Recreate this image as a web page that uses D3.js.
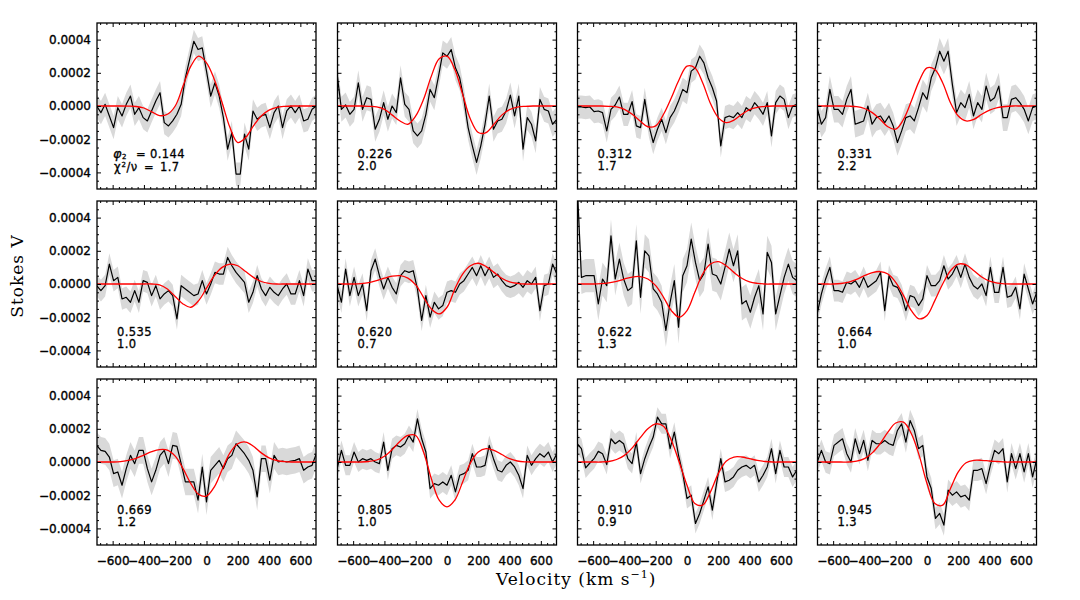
<!DOCTYPE html>
<html><head><meta charset="utf-8">
<script src="https://cdn.jsdelivr.net/npm/d3@7"></script>
<style>
html,body{margin:0;padding:0;background:#fff;}
svg{display:block;}
</style></head><body>
<svg id="chart" width="1080" height="600"></svg>
<script>
// ---- data (Stokes V values in units of 1e-4) ----
const velocity = [-702,-675,-648,-621,-594,-567,-540,-513,-486,-459,-432,-405,-378,-351,-324,-297,-270,-243,-216,-189,-162,-135,-108,-81,-54,-27,0,27,54,81,108,135,162,189,216,243,270,297,324,351,378,405,432,459,486,513,540,567,594,621,648,675,702];
const modelVelocity = [-700,-650,-600,-550,-500,-450,-400,-350,-300,-250,-200,-150,-100,-50,0,50,100,150,200,250,300,350,400,450,500,550,600,650,700];
const phases = ["0.144","0.226","0.312","0.331","0.535","0.620","0.622","0.664","0.669","0.805","0.910","0.945"];
const chiSq  = ["1.7","2.0","1.7","2.2","1.0","0.7","1.3","1.0","1.2","1.0","0.9","1.3"];
const sigmaV = [0.7,0.75,0.7,0.8,0.65,0.65,1.0,0.65,0.8,0.6,0.6,0.65];

const obs1  = [0.0,-0.4,0.1,-0.6,-1.3,-0.1,-0.6,0.1,0.6,-0.5,-0.1,-0.7,-0.9,-0.3,0.3,0.8,-1.0,-1.2,-0.9,-0.5,0.1,1.7,2.8,3.9,3.4,3.5,2.1,0.6,1.4,0.6,-0.7,-2.6,-1.6,-4.1,-4.1,-1.7,-2.6,-0.3,-0.8,-0.6,-0.5,-1.3,-0.4,0.0,-1.3,-0.3,0.0,-0.4,0.0,-0.9,-0.8,-0.2,0.0];
const obs2  = [1.9,-0.2,0.06,-0.5,-0.2,1.4,-0.2,0.5,0.4,-1.4,-0.8,0.2,-0.8,0.0,-0.4,1.7,0.1,-0.2,-1.5,-1.8,-1.5,-0.5,1.0,0.5,1.8,3.2,3.0,3.4,2.3,1.7,0.4,-1.3,-2.4,-3.4,-2.4,-1.1,0.6,-1.4,-0.9,-0.8,-0.3,0.66,-0.6,0.6,-2.6,-0.7,-1.1,-2.1,0.4,-0.2,-0.3,-1.1,-0.8];
const obs3  = [-0.06,-0.06,-0.1,-0.06,-0.34,-0.3,-0.4,-1.5,-0.2,0.06,0.54,-0.5,-0.5,0.26,-1.2,-1.3,0.4,-1.2,-2.2,-1.4,-0.8,-1.6,-0.7,-0.3,0.3,1.0,0.8,2.1,2.3,3.0,2.6,1.7,1.1,0.3,-2.4,-0.7,-0.6,-0.7,-0.4,-0.7,-0.1,-0.3,0.2,-0.1,-0.5,0.2,-1.8,0.2,0.6,0.4,-0.7,0.0,0.1];
const obs4  = [-0.1,-1.1,-0.7,1.0,-0.2,-0.2,-0.5,0.4,1.0,-1.1,-1.0,-0.9,0.0,-1.1,-0.7,-0.6,-1.0,-0.6,-1.2,-2.2,-1.5,-0.7,-0.6,-0.9,-0.1,0.8,0.4,1.7,2.3,3.3,2.7,3.3,1.3,-0.4,0.2,-0.1,0.7,-0.6,0.2,-0.2,1.2,0.3,0.5,1.2,-0.7,-0.7,0.4,0.5,0.2,-0.2,-0.9,-0.1,0.0];
const obs5  = [-0.1,-0.4,-0.1,1.2,0.2,0.4,-0.9,-0.8,-1.1,-0.4,-1.1,0.2,0.1,-0.7,-0.1,-0.9,-0.6,-0.4,-0.7,-2.1,-0.1,-0.3,-0.5,-0.7,-0.6,0.2,-0.6,0.0,0.7,0.6,0.6,1.6,1.1,0.7,0.4,0.1,-1.1,-0.5,0.5,-0.3,-0.7,-0.2,-0.5,-0.7,-0.3,0.0,-0.6,-0.6,0.2,-0.7,0.9,0.2,0.2];
const obs6  = [-0.1,-1.1,0.9,-0.7,0.4,-0.7,0.0,-1.6,0.8,1.5,0.5,-0.3,0.4,-0.2,-0.6,0.5,0.8,0.7,0.8,-0.3,-2.2,-0.7,-2.0,-1.1,-1.5,-1.3,-0.5,-0.4,-0.5,0.0,0.2,0.6,1.0,0.5,1.1,0.5,1.0,0.4,0.6,0.2,-0.1,-0.2,-0.1,0.1,-0.2,0.2,0.0,0.4,-1.6,-0.1,0.0,1.2,0.6];
const obs7  = [6.0,0.4,0.5,0.5,0.5,-1.2,0.3,-0.1,2.9,0.3,1.5,0.3,-0.4,-0.2,2.6,-0.8,2.0,1.7,-0.3,-0.6,-1.1,-2.8,-1.1,0.2,-2.6,0.5,1.1,2.7,1.3,0.2,0.6,2.4,0.6,0.5,0.0,1.0,2.1,1.1,2.0,-1.2,-1.0,-1.7,-0.8,-0.1,-1.8,1.9,1.3,-1.8,-0.7,0.4,1.2,0.4,0.2];
const obs8  = [-1.8,-0.6,0.3,1.0,-0.4,-0.4,-0.5,0.1,0.0,0.2,-0.2,0.4,-0.2,0.0,0.2,0.7,-1.6,0.5,-0.1,-0.2,-0.7,-1.6,-0.7,-0.8,-1.3,-0.9,0.5,-0.1,-0.1,0.2,1.1,0.3,0.6,1.1,0.4,1.2,0.4,-0.1,-0.3,0.0,-0.7,1.0,-0.5,-0.5,1.0,-0.8,-0.7,-0.2,-1.5,0.6,-0.3,-1.2,-0.5];
const obs9  = [1.0,0.7,0.64,0.3,-0.7,-0.6,-1.4,-0.4,0.4,-0.1,0.7,0.7,-0.4,-1.2,-0.5,0.4,0.7,-0.1,1.0,0.94,-0.1,-1.2,-1.2,-1.2,-2.3,-0.3,-2.4,-0.5,-0.2,0.1,-0.4,0.2,0.4,1.1,0.8,0.5,0.1,-0.5,-2.1,0.2,0.2,-1.1,0.4,0.0,0.06,0.0,0.06,0.1,0.2,-0.5,-0.3,-0.2,0.5];
const obs10 = [-0.4,0.7,-0.2,-0.2,0.6,0.0,0.2,0.1,0.2,0.0,-0.1,1.2,-0.5,0.8,1.0,0.9,1.1,1.6,1.2,2.6,1.4,0.6,-1.6,-1.3,-1.4,-1.2,-1.4,-0.8,-1.8,-0.8,-0.7,-0.5,0.5,-0.3,-0.3,-0.2,1.0,0.2,-0.5,-0.6,-0.2,0.0,-0.3,-0.8,-1.6,0.4,-0.2,0.2,0.5,0.3,0.6,0.0,0.5];
const obs11 = [1.1,0.8,-0.36,-0.06,0.2,0.64,0.5,-0.16,1.4,1.1,1.3,1.1,0.2,-0.1,1.2,-0.7,0.2,0.9,1.5,2.7,2.3,2.3,0.8,1.8,0.4,-0.7,-2.2,-2.0,-3.7,-3.1,-2.3,-1.5,-2.9,-1.3,0.2,-1.2,-1.1,-0.9,-0.5,-0.3,-0.2,-0.4,-0.2,-1.2,-0.8,-0.3,0.8,-0.7,0.7,-0.3,-0.3,-0.9,-0.5];
const obs12 = [0.0,0.7,0.0,-0.1,1.0,1.2,1.4,0.5,0.0,1.4,0.5,1.3,0.1,1.3,1.1,1.1,1.3,1.1,1.0,1.9,2.3,1.2,2.5,1.9,0.8,1.0,-0.9,-1.6,-3.4,-3.1,-3.8,-1.7,-2.0,-1.8,-2.1,-2.0,-2.3,-0.5,-0.5,-0.4,-1.3,-0.2,0.7,0.5,0.8,-1.2,0.5,-0.4,0.5,-0.6,0.5,-0.9,0.2];

const mod1  = [0,0,0,0,-0.01,-0.03,-0.12,-0.35,-0.58,-0.5,0.0,1.2,2.4,3.0,2.6,1.6,0.2,-1.3,-2.2,-1.9,-1.2,-0.6,-0.25,-0.08,-0.02,0,0,0,0];
const mod2  = [0,0,0,0,-0.02,-0.05,-0.2,-0.55,-0.9,-1.1,-0.6,0.4,1.8,2.85,3.0,2.2,0.7,-0.8,-1.6,-1.6,-1.1,-0.55,-0.22,-0.07,-0.02,0,0,0,0];
const mod3  = [0,0,0,0,-0.02,-0.05,-0.2,-0.5,-0.9,-1.25,-1.2,-0.5,0.5,1.6,2.4,2.3,1.4,0.15,-0.7,-1.0,-0.85,-0.5,-0.22,-0.08,-0.02,0,0,0,0];
const mod4  = [0,0,0,0,-0.01,-0.04,-0.15,-0.4,-0.8,-1.25,-1.4,-0.8,0.3,1.5,2.3,2.2,1.4,0.2,-0.6,-0.9,-0.8,-0.5,-0.25,-0.1,-0.03,0,0,0,0];
const mod5  = [0,0,0,0,0,0,0,0,-0.05,-0.3,-0.75,-1.2,-1.4,-1.0,-0.25,0.5,1.0,1.2,1.1,0.75,0.4,0.15,0.04,0,0,0,0,0,0];
const mod6  = [0,0,0,0.02,0.08,0.2,0.35,0.47,0.5,0.35,-0.05,-0.8,-1.5,-1.8,-1.4,-0.3,0.6,1.1,1.25,1.05,0.7,0.35,0.13,0.04,0,0,0,0,0];
const mod7  = [0,0,0,0.02,0.07,0.16,0.3,0.42,0.45,0.3,-0.1,-0.8,-1.6,-2.0,-1.6,-0.5,0.6,1.2,1.35,1.1,0.7,0.35,0.13,0.04,0,0,0,0,0];
const mod8  = [0,0,0,0.03,0.12,0.28,0.5,0.68,0.75,0.6,0.1,-0.7,-1.6,-2.1,-1.9,-1.0,0.0,0.8,1.2,1.15,0.8,0.42,0.17,0.05,0.01,0,0,0,0];
const mod9  = [0,0,0,0.02,0.1,0.22,0.42,0.62,0.75,0.72,0.35,-0.4,-1.3,-1.95,-2.05,-1.5,-0.45,0.55,1.1,1.2,0.95,0.55,0.25,0.09,0.02,0,0,0,0];
const mod10 = [0,0,0,0,0.03,0.12,0.35,0.75,1.25,1.6,1.6,0.6,-1.0,-2.3,-2.7,-2.3,-1.2,-0.05,0.6,0.8,0.7,0.45,0.2,0.06,0.01,0,0,0,0];
const mod11 = [0,0,0,0,0.03,0.15,0.4,0.85,1.45,2.0,2.3,2.15,1.3,0.0,-1.4,-2.5,-2.6,-1.8,-0.7,0.05,0.3,0.3,0.2,0.1,0.03,0,0,0,0];
const mod12 = [0,0,0,0,0,0.05,0.2,0.55,1.1,1.8,2.35,2.4,1.7,0.4,-1.3,-2.5,-2.6,-1.6,-0.6,-0.05,0.1,0.1,0.06,0.03,0,0,0,0,0];

const stokesV = [obs1,obs2,obs3,obs4,obs5,obs6,obs7,obs8,obs9,obs10,obs11,obs12];
const modelV  = [mod1,mod2,mod3,mod4,mod5,mod6,mod7,mod8,mod9,mod10,mod11,mod12];

const yTicks = [-4,-2,0,2,4];
const yTickLabels = ["\u22120.0004","\u22120.0002","0.0000","0.0002","0.0004"];
const xTicks = [-600,-400,-200,0,200,400,600];
const xTickLabels = ["\u2212600","\u2212400","\u2212200","0","200","400","600"];

// ---- layout ----
const svg = d3.select("#chart");
const W = 219, H = 166;
const colX = [97, 337.5, 577.5, 817.5];
const rowY = [23, 201, 379];
const tickFont = "'DejaVu Sans', 'Liberation Sans', sans-serif";
const yMinor = d3.range(-4.5, 5, 0.5).filter(v => Math.abs(v % 2) > 1e-9);
const xMinor = d3.range(-680, 700, 40).filter(v => v % 200 !== 0);
const defs = svg.append("defs");

function styleAxis(sel) {
  sel.select(".domain").remove();
  sel.selectAll(".tick line").attr("stroke", "#000").attr("stroke-width", 1);
  sel.selectAll("text").attr("font-family", tickFont).attr("font-size", 12)
    .attr("fill", "#000").attr("stroke", "#000").attr("stroke-width", 0.35);
}

phases.forEach((ph, k) => {
  const col = k % 4, row = Math.floor(k / 4);
  const x0 = colX[col], y0 = rowY[row];
  const x = d3.scaleLinear().domain([-700, 700]).range([x0, x0 + W]);
  const y = d3.scaleLinear().domain([-5, 5]).range([y0 + H, y0]);

  defs.append("clipPath").attr("id", "clip" + k)
    .append("rect").attr("x", x0).attr("y", y0).attr("width", W).attr("height", H);

  const g = svg.append("g");
  const plot = g.append("g").attr("clip-path", `url(#clip${k})`);
  const obs = stokesV[k].map((s, i) => ({ v: velocity[i], s }));
  const sig = sigmaV[k];

  plot.append("path").datum(obs)
    .attr("d", d3.area().x(d => x(d.v)).y0(d => y(d.s - sig)).y1(d => y(d.s + sig)))
    .attr("fill", "#d9d9d9");
  plot.append("path").datum(obs)
    .attr("d", d3.line().x(d => x(d.v)).y(d => y(d.s)))
    .attr("fill", "none").attr("stroke", "#000").attr("stroke-width", 1.2)
    .attr("stroke-linejoin", "round");
  const mod = modelV[k].map((s, i) => ({ v: modelVelocity[i], s }));
  plot.append("path").datum(mod)
    .attr("d", d3.line().curve(d3.curveCatmullRom).x(d => x(d.v)).y(d => y(d.s)))
    .attr("fill", "none").attr("stroke", "#ff0000").attr("stroke-width", 1.3);

  // axes (inward ticks on all sides)
  g.append("g").attr("transform", `translate(${x0},0)`)
    .call(d3.axisLeft(y).tickValues(yTicks).tickSize(-4).tickPadding(6)
      .tickFormat((d, i) => col === 0 ? yTickLabels[i] : "")).call(styleAxis);
  g.append("g").attr("transform", `translate(${x0},0)`)
    .call(d3.axisLeft(y).tickValues(yMinor).tickSize(-2).tickFormat("")).call(styleAxis);
  g.append("g").attr("transform", `translate(${x0 + W},0)`)
    .call(d3.axisRight(y).tickValues(yTicks).tickSize(-4).tickFormat("")).call(styleAxis);
  g.append("g").attr("transform", `translate(${x0 + W},0)`)
    .call(d3.axisRight(y).tickValues(yMinor).tickSize(-2).tickFormat("")).call(styleAxis);
  g.append("g").attr("transform", `translate(0,${y0 + H})`)
    .call(d3.axisBottom(x).tickValues(xTicks).tickSize(-4).tickPadding(11)
      .tickFormat((d, i) => row === 2 ? xTickLabels[i] : "")).call(styleAxis);
  g.append("g").attr("transform", `translate(0,${y0 + H})`)
    .call(d3.axisBottom(x).tickValues(xMinor).tickSize(-2).tickFormat("")).call(styleAxis);
  g.append("g").attr("transform", `translate(0,${y0})`)
    .call(d3.axisTop(x).tickValues(xTicks).tickSize(-4).tickFormat("")).call(styleAxis);
  g.append("g").attr("transform", `translate(0,${y0})`)
    .call(d3.axisTop(x).tickValues(xMinor).tickSize(-2).tickFormat("")).call(styleAxis);

  g.append("rect").attr("x", x0).attr("y", y0).attr("width", W).attr("height", H)
    .attr("fill", "none").attr("stroke", "#000").attr("stroke-width", 1.3);

  // annotations
  const ann = g.append("g").attr("font-family", tickFont).attr("font-size", 11.5)
    .attr("letter-spacing", 0.4).attr("fill", "#000")
    .attr("stroke", "#000").attr("stroke-width", 0.3);
  if (k === 0) {
    const t1 = ann.append("text").attr("y", y0 + 134.5);
    t1.append("tspan").attr("x", x0 + 16).attr("font-size", 13).attr("font-style", "italic").text("\u03c6");
    t1.append("tspan").attr("dy", 1.5).attr("font-size", 7).text("2");
    t1.append("tspan").attr("x", x0 + 39).attr("dy", -1.5).text("=");
    t1.append("tspan").attr("x", x0 + 53).text(ph);
    const t2 = ann.append("text").attr("y", y0 + 148);
    t2.append("tspan").attr("x", x0 + 17).text("\u03c7");
    t2.append("tspan").attr("dx", 0.5).attr("dy", -4).attr("font-size", 7).text("2");
    t2.append("tspan").attr("dy", 4).text("/\u03bd");
    t2.append("tspan").attr("x", x0 + 47).text("=");
    t2.append("tspan").attr("x", x0 + 63).text(chiSq[k]);
  } else {
    ann.append("text").attr("x", x0 + 20).attr("y", y0 + 135).text(ph);
    ann.append("text").attr("x", x0 + 20).attr("y", y0 + 147).text(chiSq[k]);
  }
});

// axis titles
const xt = svg.append("text").attr("x", 496).attr("y", 585)
  .attr("font-family", "'DejaVu Serif', serif").attr("font-size", 17)
  .attr("letter-spacing", 1).attr("fill", "#000");
xt.append("tspan").text("Velocity (km s");
xt.append("tspan").attr("dy", -7).attr("font-size", 11).text("\u22121");
xt.append("tspan").attr("dy", 7).text(")");

svg.append("text").attr("transform", "translate(23,276) rotate(-90)")
  .attr("text-anchor", "middle")
  .attr("font-family", "'DejaVu Serif', serif").attr("font-size", 17)
  .attr("letter-spacing", 1).attr("fill", "#000")
  .text("Stokes V");
</script>
</body></html>
